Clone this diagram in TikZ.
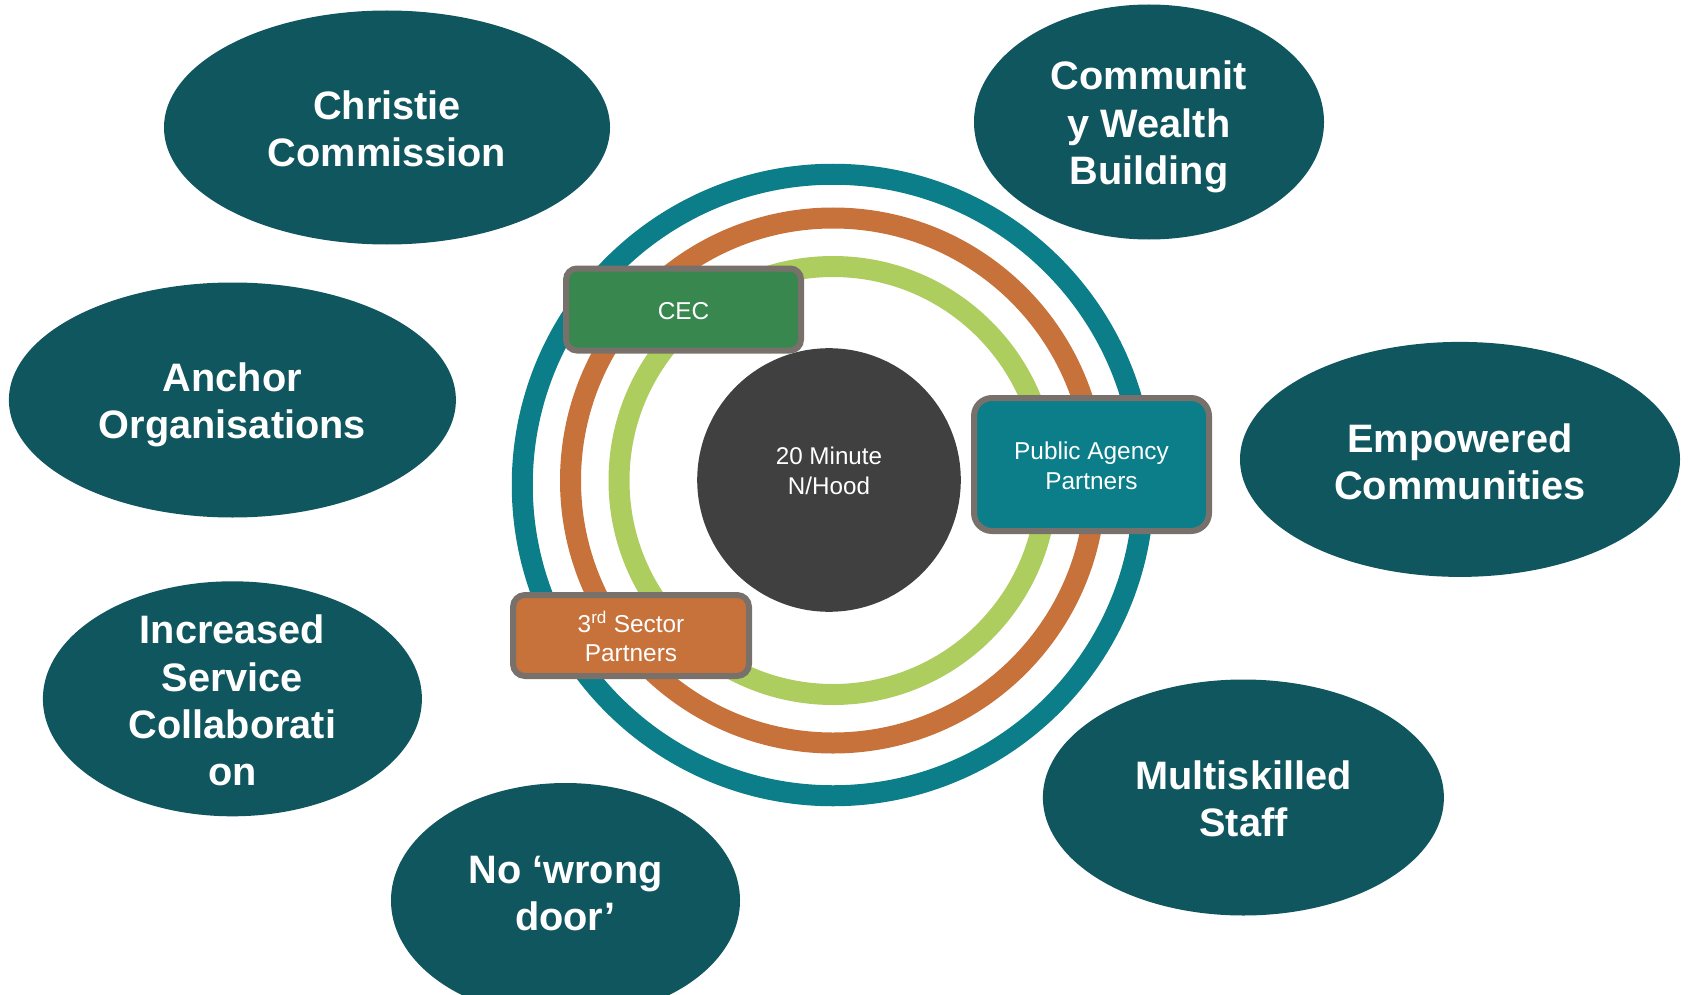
\documentclass[tikz,border=0pt]{standalone}
\usepackage{fontspec}
\setmainfont{Liberation Sans}
\usetikzlibrary{shapes.geometric}

\definecolor{bubblefill}{HTML}{10565F}
\definecolor{ringteal}{HTML}{0B7E89}
\definecolor{ringorange}{HTML}{C8723B}
\definecolor{ringgreen}{HTML}{ADCD5F}
\definecolor{cecgreen}{HTML}{38874F}
\definecolor{boxframe}{HTML}{78716B}
\definecolor{hubfill}{HTML}{404040}

\tikzset{
  bubble/.style={ellipse, fill=bubblefill, inner sep=0pt},
  bubbletext/.style={text=white, align=center, inner sep=0pt,
    font=\bfseries\fontsize{39.7}{47.3}\selectfont},
  ring/.style={line width=21pt},
  partnerbox/.style={draw=boxframe, line width=6pt, text=white, align=center,
    inner sep=0pt, font=\fontsize{24.4}{29.5}\selectfont},
  hubtext/.style={text=white, align=center, inner sep=0pt,
    font=\fontsize{24.2}{30}\selectfont}
}

\begin{document}
\begin{tikzpicture}[x=1pt, y=-1pt]
\useasboundingbox (0,0) rectangle (1691,995);
\clip (0,0) rectangle (1691,995);

% outer theme bubbles
\node[bubble, minimum width=446, minimum height=234] (christie) at (387,127.5) {};
\node[bubble, minimum width=350, minimum height=235] (wealth) at (1149,122) {};
\node[bubble, minimum width=447, minimum height=235] (anchor) at (232.4,400) {};
\node[bubble, minimum width=440, minimum height=235] (empowered) at (1460,459.4) {};
\node[bubble, minimum width=379, minimum height=235] (collab) at (232.4,698.8) {};
\node[bubble, minimum width=401, minimum height=236] (staff) at (1243.4,797.5) {};
\node[bubble, minimum width=349, minimum height=235] (door) at (565.5,900.5) {};

\node[bubbletext] (christie-t) at (387,128.5) {Christie\\Commission};
\node[bubbletext] (wealth-t) at (1149,127) {Communit\\y Wealth\\Building};
\node[bubbletext] (anchor-t) at (232.4,405) {Anchor\\Organisations};
\node[bubbletext] (empowered-t) at (1460,461.5) {Empowered\\Communities};
\node[bubbletext] (collab-t) at (232.4,700.5) {Increased\\Service\\Collaborati\\on};
\node[bubbletext] (staff-t) at (1243.4,798.5) {Multiskilled\\Staff};
\node[bubbletext] (door-t) at (565.5,893.5) {No ‘wrong\\door’};

% concentric partnership rings
\coordinate (outerc) at (833,485);
\coordinate (innerc) at (833,480.5);
\draw[ring, ringteal] (outerc) circle (310.75);
\draw[ring, ringorange] (innerc) circle (262.5);
\draw[ring, ringgreen] (innerc) circle (214);

% neighbourhood hub
\node[circle, fill=hubfill, minimum size=263.6, inner sep=0pt] (hub) at (829,480) {};
\node[hubtext] (hub-t) at (829,470.5) {20 Minute\\N/Hood};

% partner boxes
\node[partnerbox, fill=cecgreen, rounded corners=11pt,
      minimum width=235, minimum height=82] (cec) at (683.5,309.5) {};
\node[partnerbox, fill=ringteal, rounded corners=18pt,
      minimum width=235, minimum height=133] (public) at (1091.5,464.5) {};
\node[partnerbox, fill=ringorange, rounded corners=12pt,
      minimum width=236, minimum height=81] (third) at (631,635.5) {};
\node[partnerbox, draw=none] (cec-t) at (683.5,311) {CEC};
\node[partnerbox, draw=none] (public-t) at (1091.5,466) {Public Agency\\Partners};
\node[partnerbox, draw=none] (third-t) at (631,636.5) {3\textsuperscript{rd} Sector\\Partners};
\end{tikzpicture}
\end{document}
